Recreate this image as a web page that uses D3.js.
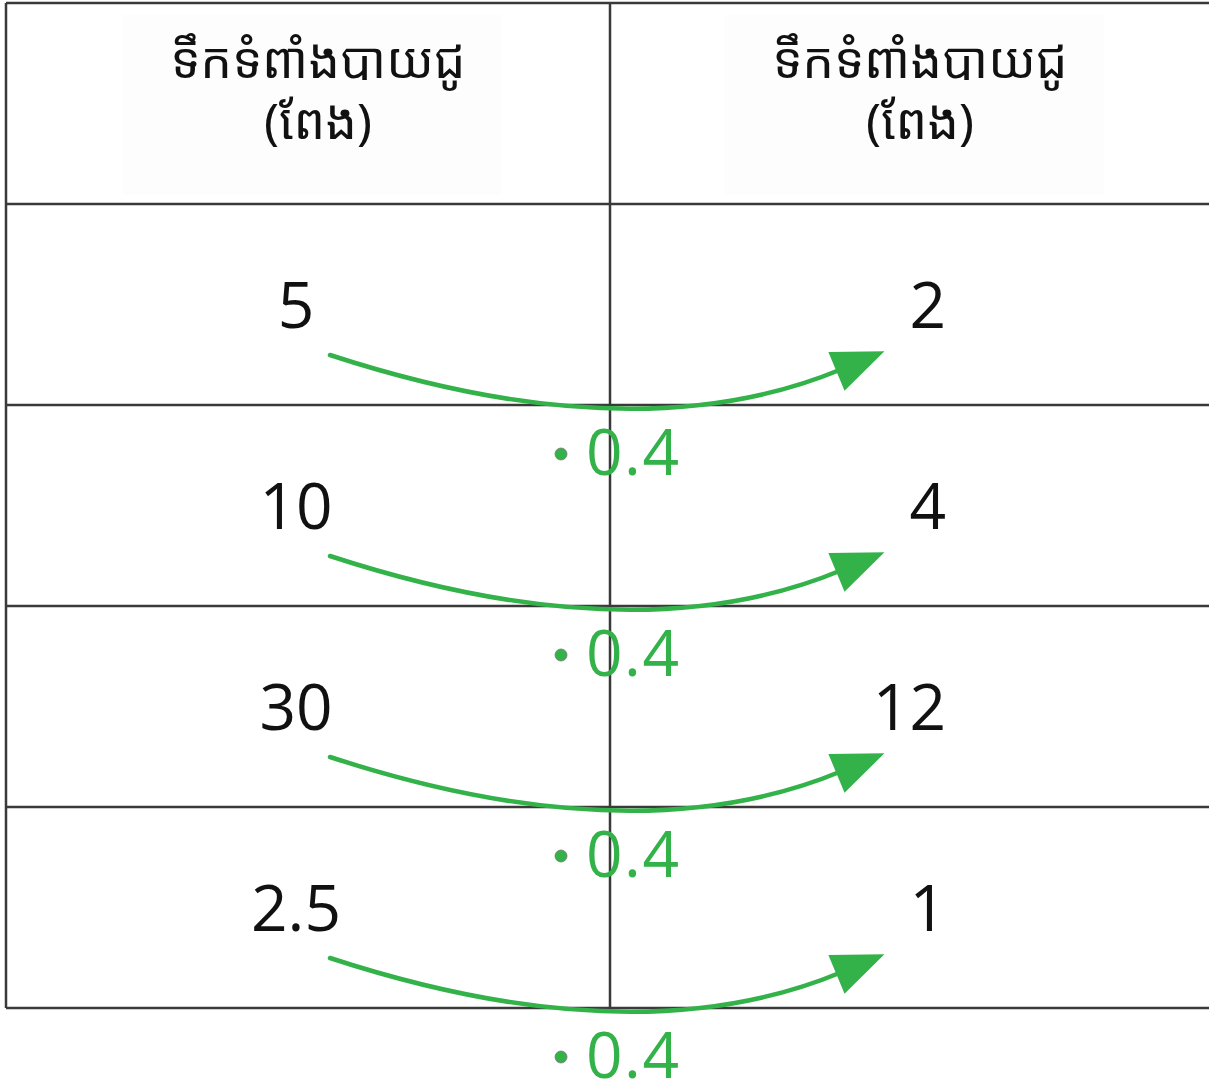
<!DOCTYPE html>
<html>
<head>
<meta charset="utf-8">
<script src="https://cdn.jsdelivr.net/npm/d3@7"></script>
<style>
html,body{margin:0;padding:0;background:#fff;}
svg{display:block;}
</style>
</head>
<body>
<svg id="chart" width="1209" height="1086"></svg>
<script>
const headerLine1 = ["ទឹកទំពាំងបាយជូ", "ទឹកទំពាំងបាយជូ"];
const headerLine2 = ["(ពែង)", "(ពែង)"];
const leftValues = ["5", "10", "30", "2.5"];
const rightValues = ["2", "4", "12", "1"];
const factors = [0.4, 0.4, 0.4, 0.4];

(function () {
const W = 1209, H = 1086;
const svg = d3.select("#chart");
const green = "#33b249";
const lineColor = "#3a3a3a";

const leftX = 6, midX = 610, topY = 3, headerBottom = 204, rowH = 201;
const rowY = d3.scaleLinear().domain([0, 1]).range([headerBottom, headerBottom + rowH]);
const colX = d3.scaleOrdinal().domain([0, 1]).range([318, 920]);

// header background boxes (very faint)
svg.selectAll("rect.hbg").data([0, 1]).join("rect")
  .attr("x", d => colX(d) - 196).attr("y", 15).attr("width", 380).attr("height", 180)
  .attr("fill", "#fdfdfd");

const n = leftValues.length;
// grid lines
const g = svg.append("g").attr("stroke", lineColor).attr("stroke-width", 2.5);
g.append("line").attr("x1", leftX).attr("x2", W).attr("y1", topY).attr("y2", topY);
g.append("line").attr("x1", leftX).attr("x2", leftX).attr("y1", topY).attr("y2", rowY(n));
g.append("line").attr("x1", midX).attr("x2", midX).attr("y1", topY).attr("y2", rowY(n));
g.selectAll("line.h").data(d3.range(n + 1)).join("line")
  .attr("x1", leftX).attr("x2", W)
  .attr("y1", d => rowY(d)).attr("y2", d => rowY(d));

// header texts (one wrapped text per column)
const ht = svg.append("g").attr("font-family", "'Noto Sans Khmer','Khmer OS','Noto Sans','DejaVu Sans',sans-serif")
  .attr("font-size", 50).attr("fill", "#111").attr("text-anchor", "middle");
const hTexts = ht.selectAll("text.hdr").data(headerLine1.map((d, i) => [d, headerLine2[i]])).join("text")
  .attr("class", "hdr").attr("y", 78);
hTexts.append("tspan").attr("x", (d, i) => colX(i)).attr("y", 78).text(d => d[0]);
hTexts.append("tspan").attr("x", (d, i) => colX(i)).attr("y", 139).text(d => d[1]);

// values
const num = svg.append("g").attr("font-family", "'Open Sans','Noto Sans',sans-serif")
  .attr("font-size", 64).attr("fill", "#111");
num.selectAll("text.lv").data(leftValues).join("text")
  .attr("text-anchor", "middle")
  .attr("x", 296).attr("y", (d, i) => rowY(i) + 124).text(d => d);
num.selectAll("text.rv").data(rightValues).join("text")
  .attr("text-anchor", "end")
  .attr("x", 946).attr("y", (d, i) => rowY(i) + 124).text(d => d);

// arrows
const arrows = svg.append("g");
factors.forEach((f, i) => {
  const y0 = rowY(i);
  const p0 = [330, y0 + 151], c = [636, y0 + 251], p2 = [842, y0 + 165];
  const p = d3.path();
  p.moveTo(p0[0], p0[1]);
  p.quadraticCurveTo(c[0], c[1], p2[0], p2[1]);
  arrows.append("path").attr("d", p.toString()).attr("fill", "none")
    .attr("stroke", green).attr("stroke-width", 4.5).attr("stroke-linecap", "round");
  let dx = p2[0] - c[0], dy = p2[1] - c[1];
  const len = Math.hypot(dx, dy); dx /= len; dy /= len;
  const L = 52, hw = 21, back = 6;
  const base = [p2[0] - dx * back, p2[1] - dy * back];
  const tip = [base[0] + dx * L, base[1] + dy * L];
  const pts = [tip, [base[0] - dy * hw, base[1] + dx * hw], [base[0] + dy * hw, base[1] - dx * hw]];
  arrows.append("path").attr("d", d3.line()(pts) + "Z").attr("fill", green);
  arrows.append("circle").attr("cx", 561).attr("cy", rowY(i + 1) + 49).attr("r", 6)
    .attr("fill", green).attr("stroke", "#777").attr("stroke-width", 0.8);
  arrows.append("text").attr("x", 586).attr("y", rowY(i + 1) + 70)
    .attr("font-family", "'Open Sans','Noto Sans',sans-serif").attr("font-size", 64)
    .attr("letter-spacing", 1.5)
    .attr("fill", green).text(d3.format(".1f")(f));
});
})();
</script>
</body>
</html>
